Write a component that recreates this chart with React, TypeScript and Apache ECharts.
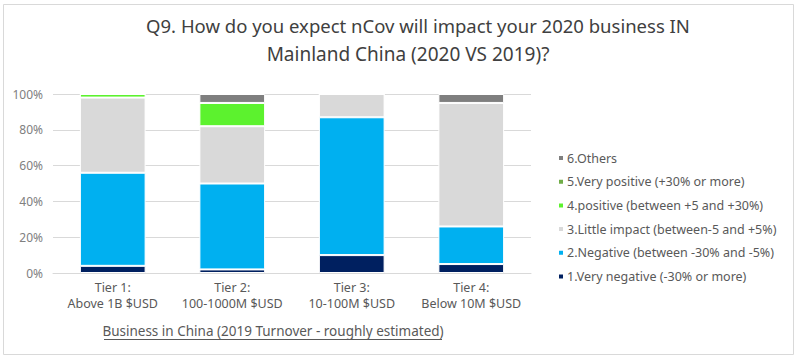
import React, { useEffect, useRef } from "react";
import * as echarts from "echarts";

const titleLines = ["Q9. How do you expect nCov will impact your 2020 business IN", "Mainland China (2020 VS 2019)?"];
const categories = ["Tier 1:\nAbove 1B $USD", "Tier 2:\n100-1000M $USD", "Tier 3:\n10-100M $USD", "Tier 4:\nBelow 10M $USD"];
const seriesNames = [
  "1.Very negative (-30% or more)",
  "2.Negative (between -30% and -5%)",
  "3.Little impact (between-5 and +5%)",
  "4.positive (between +5 and +30%)",
  "5.Very positive (+30% or more)",
  "6.Others",
];
const veryNegative = [4, 2, 10, 5];
const negative = [52, 48, 77, 21];
const littleImpact = [42, 32, 13, 69];
const positive = [2, 13, 0, 0];
const veryPositive = [0, 0, 0, 0];
const others = [0, 5, 0, 5];
const yTicks = [0, 20, 40, 60, 80, 100];
const colors = ["#002060", "#00B0F0", "#D9D9D9", "#5CF22E", "#70AD47", "#7F7F7F"];

const FONT = "'Noto Sans', 'DejaVu Sans', sans-serif";

export default function App() {
  const ref = useRef<HTMLDivElement>(null);
  useEffect(() => {
    document.body.style.margin = "0";
    const chart = echarts.init(ref.current!, null, { renderer: "svg" });
    const values = [veryNegative, negative, littleImpact, positive, veryPositive, others];
    const titleStyle = { fontSize: 18.5, fontWeight: "normal", color: "#404040", fontFamily: FONT };
    chart.setOption({
      animation: false,
      textStyle: { fontFamily: FONT },
      title: [
        { text: titleLines[0], left: 418, textAlign: "center", top: 16, padding: 0, textStyle: titleStyle },
        { text: titleLines[1], left: 408, textAlign: "center", top: 44, padding: 0, textStyle: { ...titleStyle, fontSize: 19 } },
      ],
      legend: {
        orient: "vertical",
        left: 552,
        top: 146,
        itemWidth: 6,
        itemHeight: 6,
        itemGap: 9.7,
        icon: "rect",
        data: [...seriesNames].reverse(),
        textStyle: { fontSize: 12.5, color: "#595959", lineHeight: 14, padding: [0, 0, 0, -2] },
      },
      grid: { left: 53, right: 269, top: 94, bottom: 86 },
      xAxis: {
        type: "category",
        data: categories,
        axisLine: { lineStyle: { color: "#D9D9D9" } },
        axisTick: { show: false },
        axisLabel: { fontSize: 12.5, color: "#595959", lineHeight: 16, margin: 6, interval: 0 },
      },
      yAxis: {
        type: "value",
        min: 0,
        max: 100,
        interval: 20,
        axisLine: { show: false },
        axisTick: { show: false },
        splitLine: { lineStyle: { color: "#D9D9D9" } },
        axisLabel: {
          fontSize: 12,
          color: "#808080",
          margin: 10,
          formatter: (v: number) => (yTicks.includes(v) ? v + "%" : ""),
        },
      },
      series: seriesNames.map((name, i) => ({
        name,
        type: "bar",
        stack: "total",
        barWidth: "55%",
        data: values[i],
        itemStyle: { color: colors[i], borderColor: "#ffffff", borderWidth: 1 },
      })),
      graphic: [
        {
          type: "rect",
          shape: { x: 3.5, y: 4.5, width: 790, height: 350 },
          style: { fill: "none", stroke: "#D9D9D9", lineWidth: 1 },
          silent: true,
        },
        {
          type: "text",
          x: 273,
          y: 331,
          style: {
            text: "Business in China (2019 Turnover - roughly estimated)",
            fontSize: 13.5,
            fill: "#595959",
            fontFamily: FONT,
            textAlign: "center",
            textVerticalAlign: "middle",
          },
        },
        {
          type: "line",
          shape: { x1: 104, y1: 339.5, x2: 442, y2: 339.5 },
          style: { stroke: "#595959", lineWidth: 1 },
        },
      ],
    });
    return () => chart.dispose();
  }, []);
  return <div ref={ref} style={{ width: 800, height: 359 }} />;
}
